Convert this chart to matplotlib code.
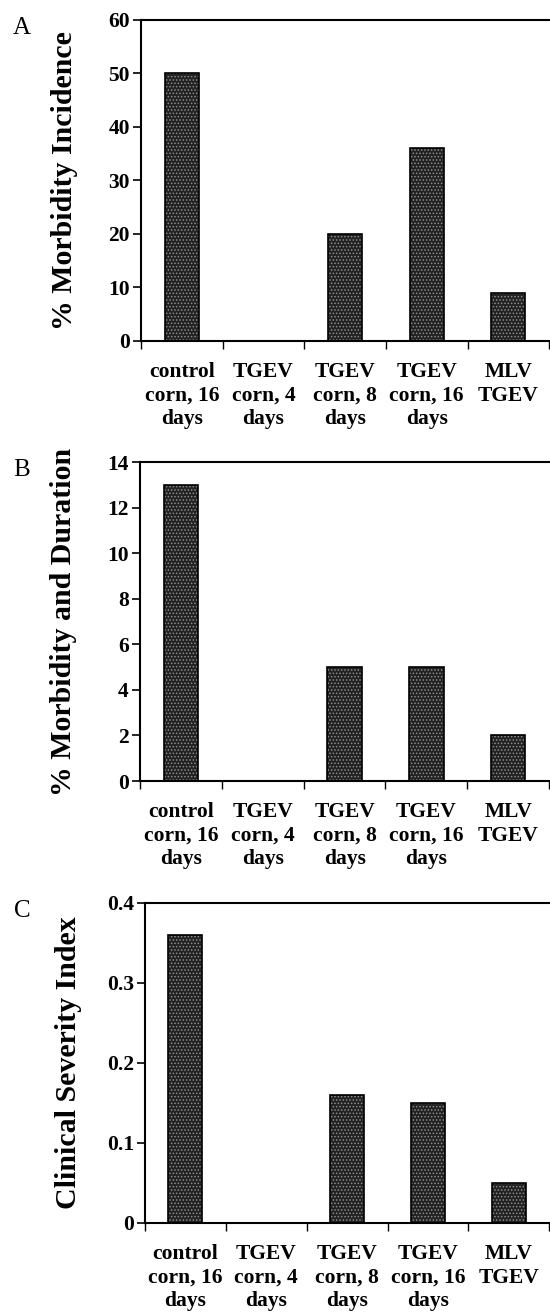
import matplotlib.pyplot as plt
import numpy as np

plt.rcParams['font.family'] = ['Liberation Serif', 'DejaVu Serif']
plt.rcParams['hatch.linewidth'] = 0.7

# 数据
categories = ['control\ncorn, 16\ndays', 'TGEV\ncorn, 4\ndays', 'TGEV\ncorn, 8\ndays',
              'TGEV\ncorn, 16\ndays', 'MLV\nTGEV']
incidence = [50, 0, 20, 36, 9]
duration = [13, 0, 5, 5, 2]
severity = [0.36, 0, 0.16, 0.15, 0.05]

panels = [
    ('A', incidence, '% Morbidity Incidence', (0, 60), np.arange(0, 61, 10), '%d'),
    ('B', duration, '% Morbidity and Duration', (0, 14), np.arange(0, 15, 2), '%d'),
    ('C', severity, 'Clinical Severity Index', (0, 0.4), [0, 0.1, 0.2, 0.3, 0.4], None),
]
# 轴位置（图像坐标）
boxes = [(0.2564, 0.7405, 0.742, 0.2443),
         (0.2545, 0.4056, 0.744, 0.2428),
         (0.2636, 0.0693, 0.735, 0.2435)]
tlabels_c = ['0', '0.1', '0.2', '0.3', '0.4']

fig = plt.figure(figsize=(5.5, 13.14), dpi=100)
for (letter, vals, ylab, ylim, yt, fmt), box in zip(panels, boxes):
    ax = fig.add_axes(box)
    x = np.arange(len(categories))
    # 深色点状填充 + 黑色边框
    ax.bar(x, vals, width=0.42, facecolor='#222222', edgecolor='#8c8c8c', hatch='.....', linewidth=0)
    ax.bar(x, vals, width=0.42, fill=False, edgecolor='black', linewidth=1.2)
    ax.set_xlim(-0.5, 4.5)
    ax.set_ylim(*ylim)
    ax.set_yticks(yt)
    if fmt:
        ax.set_yticklabels([fmt % v for v in yt])
    else:
        ax.set_yticklabels(tlabels_c)
    ax.set_xticks(np.arange(-0.5, 5, 1))
    ax.set_xticklabels([])
    ax.set_xticks(x, minor=True)
    ax.set_xticklabels(categories, minor=True, fontsize=15.5, fontweight='bold', linespacing=1.25)
    ax.tick_params(axis='x', which='major', direction='out', length=6, width=1)
    ax.tick_params(axis='x', which='minor', length=0, pad=15)
    ax.tick_params(axis='y', direction='out', length=6, width=1.2, labelsize=15.5, pad=2)
    for t in ax.get_yticklabels():
        t.set_fontweight('bold')
    for s in ['top', 'left', 'bottom']:
        ax.spines[s].set_linewidth(1.5)
    ax.spines['right'].set_visible(False)
    ax.set_ylabel(ylab, fontsize=21.5, fontweight='bold')
    ax.yaxis.set_label_coords(-0.155, 0.5)
    fig.text(0.04, box[1] + box[3] + 0.002, letter, fontsize=18, ha='center', va='top')

fig.savefig('out.png', dpi=100)
